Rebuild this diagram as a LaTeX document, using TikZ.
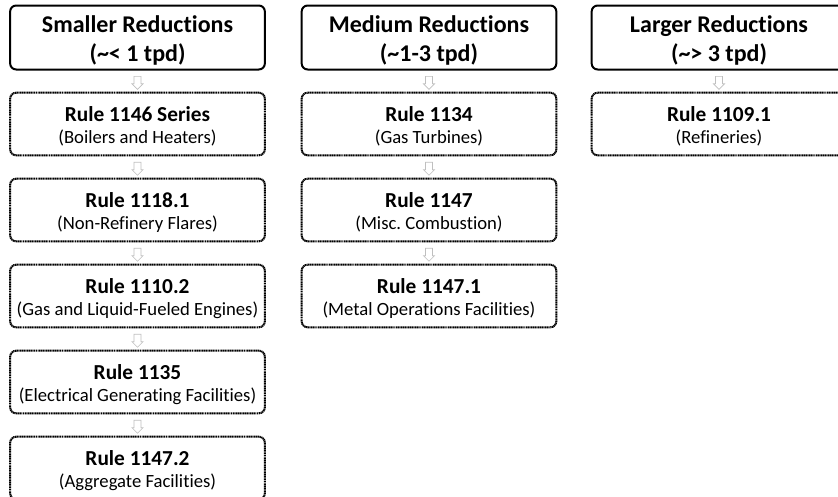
\documentclass[tikz,border=0pt]{standalone}
\usepackage{fontspec}
\setmainfont{Carlito}[Ligatures=NoCommon]
\frenchspacing
\usetikzlibrary{shapes,arrows}
\usetikzlibrary{scopes}
\newcommand{\rulelabel}[2]{{\fontsize{16}{16.3}\selectfont\bfseries #1}\\#2}

\begin{document}
\begin{tikzpicture}
      [
      x=0.75pt, y=-0.75pt,
      headbox/.style={draw=black,line width=1.5pt,rounded corners=4.5pt,minimum width=191pt,minimum height=48pt,align=center,text height=38.5pt,font=\fontsize{18}{21.5}\selectfont\bfseries},
      rulebox/.style={draw=black,line width=1.5pt,dash pattern=on 0.9pt off 0.4pt,rounded corners=4.5pt,minimum width=191pt,minimum height=47pt,align=center,text height=31.5pt,font=\fontsize{14}{16.3}\selectfont},
      downarr/.style={single arrow,draw=gray!50,fill=white,line width=0.5pt,rotate=-90,minimum height=9.75pt,single arrow head extend=1.5pt,inner sep=2.4pt},
      ]
      \useasboundingbox (0,0) rectangle (838,496);
      \def\colA{137.5} % column centres
      \def\colB{429}
      \def\colC{719}
      % headers
      \node[headbox] (small) at (\colA,37.5) {Smaller Reductions\\(\textasciitilde< 1 tpd)};
      \node[headbox] (medium) at (\colB,37.5) {Medium Reductions\\(\textasciitilde1-3 tpd)};
      \node[headbox] (large) at (\colC,37.5) {Larger Reductions\\(\textasciitilde> 3 tpd)};
      % smaller reductions
      \node[rulebox] (r1146) at (\colA,124) {\rulelabel{Rule 1146 Series}{(Boilers and Heaters)}};
      \node[rulebox] (r11181) at (\colA,210) {\rulelabel{Rule 1118.1}{(Non-Refinery Flares)}};
      \node[rulebox] (r11102) at (\colA,296) {\rulelabel{Rule 1110.2}{(Gas and Liquid-Fueled Engines)}};
      \node[rulebox] (r1135) at (\colA,382) {\rulelabel{Rule 1135}{(Electrical Generating Facilities)}};
      \node[rulebox] (r11472) at (\colA,468) {\rulelabel{Rule 1147.2}{(Aggregate Facilities)}};
      % medium reductions
      \node[rulebox] (r1134) at (\colB,124) {\rulelabel{Rule 1134}{(Gas Turbines)}};
      \node[rulebox] (r1147) at (\colB,210) {\rulelabel{Rule 1147}{(Misc. Combustion)}};
      \node[rulebox] (r11471) at (\colB,296) {\rulelabel{Rule 1147.1}{(Metal Operations Facilities)}};
      % larger reductions
      \node[rulebox] (r11091) at (\colC,124) {\rulelabel{Rule 1109.1}{(Refineries)}};
      % arrows
      \foreach \a/\b in {small/r1146,r1146/r11181,r11181/r11102,r11102/r1135,r1135/r11472,
                         medium/r1134,r1134/r1147,r1147/r11471,large/r11091}
        \path (\a) -- (\b) node[midway,downarr] {};
\end{tikzpicture}
\end{document}
